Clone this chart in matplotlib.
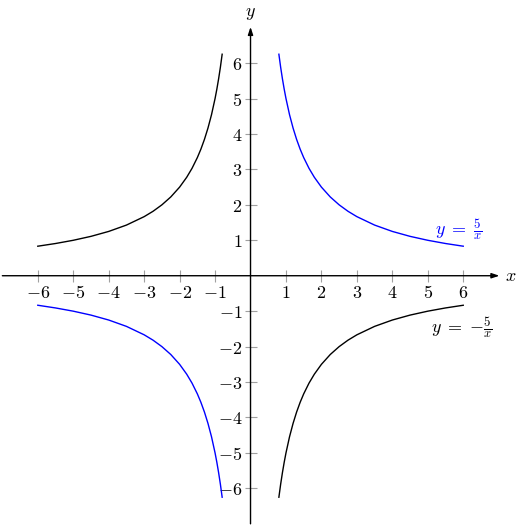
import matplotlib
matplotlib.use("Agg")
import matplotlib.pyplot as plt

plt.rcParams['mathtext.fontset'] = 'cm'
plt.rcParams['font.family'] = ['DejaVu Serif']

# Points on y = 5/x for x > 0
x_pos = [0.8, 0.85, 0.9, 0.95, 1.0, 1.1, 1.2, 1.3, 1.4, 1.5, 1.65, 1.8, 2.0,
         2.25, 2.5, 2.75, 3.0, 3.5, 4.0, 4.5, 5.0, 5.5, 6.0]
y_pos = [6.25, 5.882, 5.556, 5.263, 5.0, 4.545, 4.167, 3.846, 3.571, 3.333,
         3.030, 2.778, 2.5, 2.222, 2.0, 1.818, 1.667, 1.429, 1.25, 1.111,
         1.0, 0.909, 0.833]

x_ticks = [-6, -5, -4, -3, -2, -1, 1, 2, 3, 4, 5, 6]
y_ticks = [-6, -5, -4, -3, -2, -1, 1, 2, 3, 4, 5, 6]

fig = plt.figure(figsize=(5.26, 5.27), dpi=100)
ax = fig.add_axes([0, 0, 1, 1])
ax.set_xlim(-7.066, 7.77)
ax.set_ylim(-7.09, 7.78)

x_neg = [-v for v in x_pos]
y_neg = [-v for v in y_pos]

blue = (0, 0, 1)
# y = 5/x
ax.plot(x_pos, y_pos, color=blue, lw=1.0)
ax.plot(x_neg, y_neg, color=blue, lw=1.0)
# y = -5/x
ax.plot(x_pos, y_neg, color='black', lw=1.0)
ax.plot(x_neg, y_pos, color='black', lw=1.0)

for s in ['top', 'right']:
    ax.spines[s].set_visible(False)
for s in ['left', 'bottom']:
    ax.spines[s].set_position(('data', 0))
    ax.spines[s].set_color('none')

ax.annotate('', xy=(7.02, 0), xytext=(-7.0, 0),
            arrowprops=dict(arrowstyle='-|>,head_length=0.45,head_width=0.15',
                            color='black', lw=1.0, shrinkA=0, shrinkB=0))
ax.annotate('', xy=(0, 7.02), xytext=(0, -7.0),
            arrowprops=dict(arrowstyle='-|>,head_length=0.45,head_width=0.15',
                            color='black', lw=1.0, shrinkA=0, shrinkB=0))

ax.set_xticks(x_ticks)
ax.set_yticks(y_ticks)
ax.set_xticklabels([f'${v}$' if v > 0 else f'$-{abs(v)}$' for v in x_ticks])
ax.set_yticklabels([f'${v}$' if v > 0 else f'$-{abs(v)}$' for v in y_ticks])
ax.tick_params(direction='inout', length=8, width=0.8, color='#a0a0a0',
               labelsize=13, pad=2)

ax.text(7.33, 0, '$x$', fontsize=13, ha='center', va='center')
ax.text(0, 7.41, '$y$', fontsize=13, ha='center', va='center')
ax.text(5.88, 1.3, r'$y\;=\;\frac{5}{x}$', fontsize=13, color=blue,
        ha='center', va='center')
ax.text(5.95, -1.45, r'$y\;=\;{-}\frac{5}{x}$', fontsize=13, color='black',
        ha='center', va='center')

fig.savefig('out.png', dpi=100)
